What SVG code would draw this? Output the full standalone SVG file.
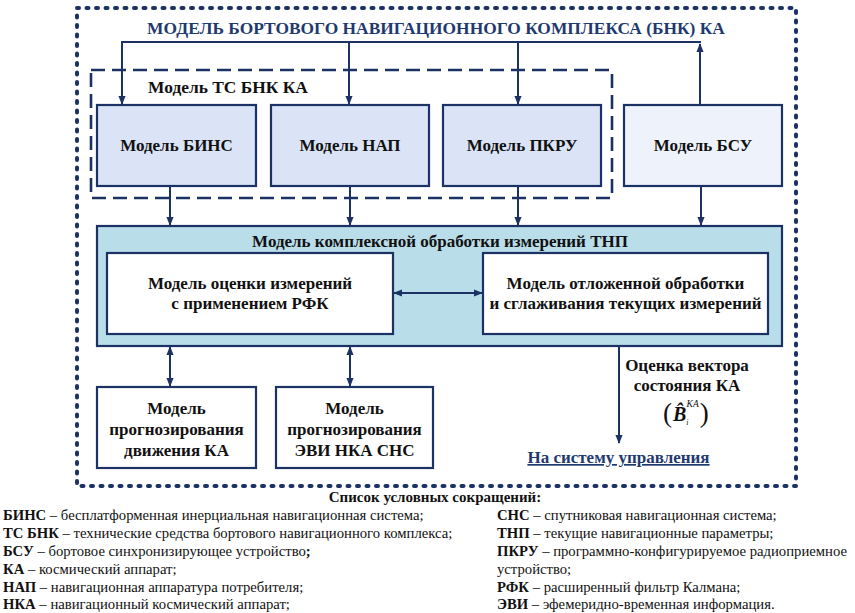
<svg xmlns="http://www.w3.org/2000/svg" width="855" height="613" viewBox="0 0 855 613">
<defs>
<marker id="ah" viewBox="0 0 10 8" refX="9" refY="4" markerWidth="9" markerHeight="8" markerUnits="userSpaceOnUse" orient="auto-start-reverse">
<path d="M0,0 L10,4 L0,8 z" fill="#1c3164"/>
</marker>
<style>
text{font-family:"Liberation Serif","Times New Roman",serif;fill:#111;}
.lb{font-weight:bold;font-size:17px;text-anchor:middle;}
.lg{font-size:14.7px;}
.box{stroke:#1c3164;stroke-width:2.2;}
.ln{stroke:#1c3164;stroke-width:2;fill:none;}
</style>
</defs>
<rect width="855" height="613" fill="#fff"/>
<rect x="77" y="8" width="719" height="478" fill="none" stroke="#1c3164" stroke-width="4" stroke-dasharray="2 7.5" stroke-linecap="round"/>
<text x="436" y="34" text-anchor="middle" font-size="17.4" font-weight="bold" style="fill:#1f3a70">МОДЕЛЬ БОРТОВОГО НАВИГАЦИОННОГО КОМПЛЕКСА (БНК) КА</text>
<g id="ts_bnk">
<rect x="91" y="70" width="521" height="128" fill="none" stroke="#1c3164" stroke-width="2.6" stroke-dasharray="14 7"/>
<text x="148" y="93" font-size="17.4" font-weight="bold">Модель ТС БНК КА</text>
</g>
<g id="bins"><rect class="box" x="97" y="105" width="159" height="81" fill="#dae4f6"/><text class="lb" x="176.5" y="151">Модель БИНС</text></g>
<g id="nap"><rect class="box" x="271" y="105" width="158" height="81" fill="#dae4f6"/><text class="lb" x="350" y="151">Модель НАП</text></g>
<g id="pkru"><rect class="box" x="443" y="105" width="158" height="81" fill="#dae4f6"/><text class="lb" x="522" y="151">Модель ПКРУ</text></g>
<g id="bsu"><rect class="box" x="624" y="105" width="158" height="81" fill="#eef3fb"/><text class="lb" x="703" y="151">Модель БСУ</text></g>
<g id="kompleks">
<rect class="box" x="97" y="226" width="685" height="120" fill="#b9dde9"/>
<text class="lb" x="440" y="247">Модель комплексной обработки измерений ТНП</text>
</g>
<g id="rfk"><rect class="box" x="107" y="253" width="286" height="81" fill="#fff"/>
<text class="lb" x="250" y="289">Модель оценки измерений</text>
<text class="lb" x="250" y="309">с применением РФК</text></g>
<g id="smooth"><rect class="box" x="483" y="253" width="285" height="81" fill="#fff"/>
<text class="lb" x="625.5" y="289">Модель отложенной обработки</text>
<text class="lb" x="625.5" y="309">и сглаживания текущих измерений</text></g>
<g id="prog_ka"><rect class="box" x="97" y="387" width="159" height="81" fill="#fff"/>
<text class="lb" x="176.5" y="414">Модель</text>
<text class="lb" x="176.5" y="435">прогнозирования</text>
<text class="lb" x="176.5" y="456">движения КА</text></g>
<g id="prog_evi"><rect class="box" x="276" y="387" width="157" height="81" fill="#fff"/>
<text class="lb" x="354.5" y="414">Модель</text>
<text class="lb" x="354.5" y="435">прогнозирования</text>
<text class="lb" x="354.5" y="456">ЭВИ НКА СНС</text></g>
<g id="connectors">
<path class="ln" d="M121,42 H701"/>
<path class="ln" d="M122,42 V104" marker-end="url(#ah)"/>
<path class="ln" d="M349,42 V104" marker-end="url(#ah)"/>
<path class="ln" d="M518,42 V104" marker-end="url(#ah)"/>
<path class="ln" d="M700,105 V44" marker-end="url(#ah)"/>
<path class="ln" d="M170,186 V225" marker-end="url(#ah)"/>
<path class="ln" d="M350,186 V225" marker-end="url(#ah)"/>
<path class="ln" d="M518,186 V225" marker-end="url(#ah)"/>
<path class="ln" d="M701,186 V225" marker-end="url(#ah)"/>
<path class="ln" d="M394,293 H482" marker-start="url(#ah)" marker-end="url(#ah)"/>
<path class="ln" d="M170,347 V386" marker-start="url(#ah)" marker-end="url(#ah)"/>
<path class="ln" d="M350,347 V386" marker-start="url(#ah)" marker-end="url(#ah)"/>
<path class="ln" d="M619,346 V443" marker-end="url(#ah)"/>
</g>
<g id="output">
<text class="lb" x="687" y="371">Оценка вектора</text>
<text class="lb" x="687" y="391">состояния КА</text>
<text font-size="27" x="663" y="422">(<tspan font-size="20" font-weight="bold" font-style="italic" dx="1" y="421">B̂</tspan><tspan font-size="8" font-style="italic" dx="0" y="425">i</tspan><tspan font-size="9.5" font-style="italic" dx="-2" y="407">KA</tspan><tspan font-size="27" dx="1" y="422">)</tspan></text>
<text class="lb" x="618.5" y="463" text-decoration="underline" style="fill:#1f3a70">На систему управления</text>
</g>
<g id="legend">
<text class="lg" x="435" y="502" font-size="15" font-weight="bold" text-anchor="middle" style="font-size:15px">Список условных сокращений:</text>
<text class="lg" x="3" y="520"><tspan font-weight="bold">БИНС</tspan> – бесплатформенная инерциальная навигационная система;</text>
<text class="lg" x="3" y="538"><tspan font-weight="bold">ТС БНК</tspan> – технические средства бортового навигационного комплекса;</text>
<text class="lg" x="3" y="556"><tspan font-weight="bold">БСУ</tspan> – бортовое синхронизирующее устройство<tspan font-weight="bold">;</tspan></text>
<text class="lg" x="3" y="574"><tspan font-weight="bold">КА</tspan> – космический аппарат;</text>
<text class="lg" x="3" y="592"><tspan font-weight="bold">НАП</tspan> – навигационная аппаратура потребителя;</text>
<text class="lg" x="3" y="609"><tspan font-weight="bold">НКА</tspan> – навигационный космический аппарат;</text>
<text class="lg" x="497" y="520"><tspan font-weight="bold">СНС</tspan> – спутниковая навигационная система;</text>
<text class="lg" x="497" y="538"><tspan font-weight="bold">ТНП</tspan> – текущие навигационные параметры;</text>
<text class="lg" x="497" y="556"><tspan font-weight="bold">ПКРУ</tspan> – программно-конфигурируемое радиоприемное</text>
<text class="lg" x="497" y="574">устройство;</text>
<text class="lg" x="497" y="592"><tspan font-weight="bold">РФК</tspan> – расширенный фильтр Калмана;</text>
<text class="lg" x="497" y="609"><tspan font-weight="bold">ЭВИ</tspan> – эфемеридно-временная информация.</text>
</g>
</svg>
